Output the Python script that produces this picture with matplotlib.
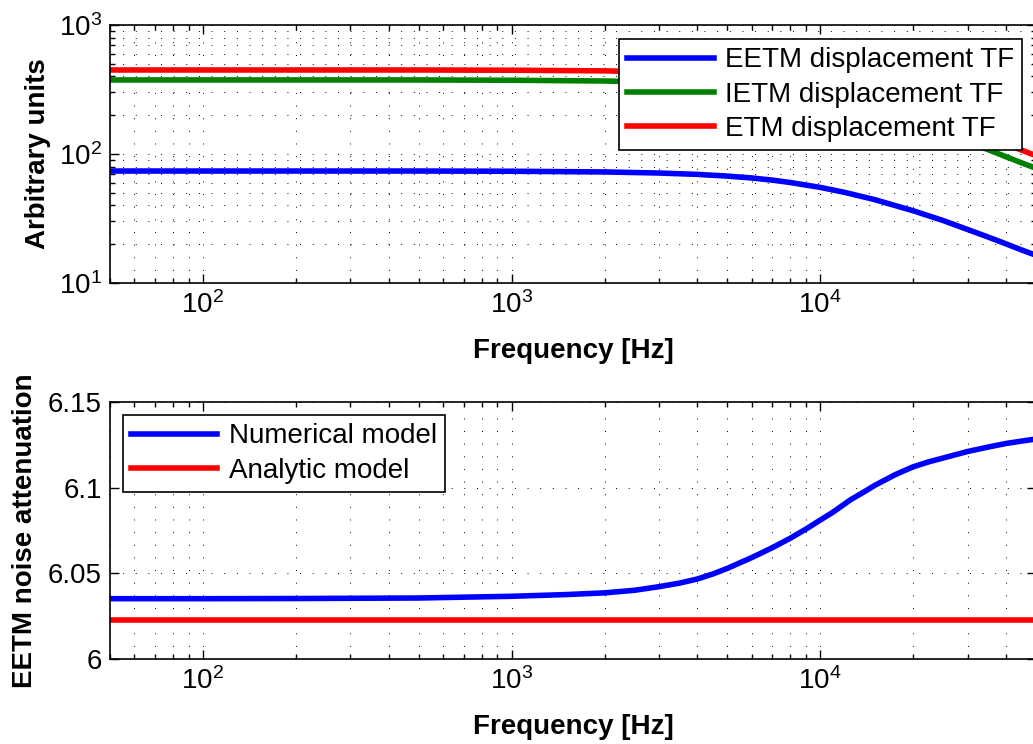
import matplotlib
matplotlib.use("Agg")
import matplotlib.pyplot as plt
from matplotlib.ticker import NullFormatter, FixedLocator, FixedFormatter

plt.rcParams["font.family"] = ["Liberation Sans", "DejaVu Sans"]
plt.rcParams["mathtext.fontset"] = "custom"
plt.rcParams["mathtext.rm"] = "Liberation Sans"
plt.rcParams["mathtext.it"] = "Liberation Sans:italic"
plt.rcParams["mathtext.bf"] = "Liberation Sans:bold"

FONT_SIZE = 20
LINE_WIDTH = 4.0
GRID_STYLE = dict(color="black", linestyle=(0, (1, 12)), linewidth=0.7)

# displacement transfer functions (arbitrary units)
FREQ_TF = [50, 100, 200, 500, 1000, 2000, 3000, 4000, 5000, 6000, 7000, 8000,
           10000, 12000, 15000, 20000, 25000, 30000, 35000, 40000, 45000, 50000]
EETM_TF = [73.8, 73.8, 73.8, 73.8, 73.5, 72.6, 71.2, 69.5, 67.4, 65.2, 62.7, 60.1,
           55.1, 50.4, 44.3, 36.3, 30.5, 26.0, 22.7, 20.1, 18.0, 16.4]
IETM_TF = [375, 375, 375, 375, 373, 368, 361, 351, 339, 326, 312, 298,
           272, 249, 215, 174, 145, 124, 108, 95.2, 85.2, 77.5]
ETM_TF = [448, 448, 448, 448, 446, 441, 432, 421, 408, 393, 378, 362,
          331, 303, 265, 216, 180, 154, 134, 119, 107, 97.0]

# noise attenuation of the EETM
FREQ_ATT = [50, 100, 200, 500, 1000, 1500, 2000, 2500, 3000, 3500, 4000, 4500,
            5000, 6000, 7000, 8000, 9000, 10000, 11000, 12500, 14000, 15000,
            17500, 20000, 22500, 25000, 30000, 35000, 40000, 45000, 50000]
NUMERICAL_ATT = [6.0352, 6.0352, 6.0353, 6.0356, 6.0366, 6.0376, 6.0386, 6.0401,
                 6.0422, 6.0443, 6.0467, 6.0497, 6.0529, 6.0592, 6.0650, 6.0705,
                 6.0759, 6.0811, 6.0857, 6.0928, 6.0980, 6.1013, 6.1076, 6.1122,
                 6.1151, 6.1173, 6.1211, 6.1237, 6.1258, 6.1272, 6.1284]
ANALYTIC_ATT = [6.0228] * len(FREQ_ATT)

ATT_TICKS = [6.0, 6.05, 6.1, 6.15]
ATT_TICK_LABELS = ["6", "6.05", "6.1", "6.15"]

FIG_W, FIG_H = 1033, 744


def px_axes(left, top, right, bottom):
    return [left / FIG_W, 1 - bottom / FIG_H, (right - left) / FIG_W, (bottom - top) / FIG_H]


def style_axes(ax):
    ax.set_xscale("log")
    ax.set_xlim(50, 50000)
    ax.tick_params(which="both", direction="in", top=True, right=True,
                   labelsize=FONT_SIZE, width=1.0, pad=6)
    ax.tick_params(which="major", length=6.5)
    ax.tick_params(which="minor", length=3.5)
    ax.xaxis.set_minor_formatter(NullFormatter())
    for spine in ax.spines.values():
        spine.set_linewidth(1.2)
    ax.grid(True, which="both", **GRID_STYLE)
    ax.set_xlabel("Frequency [Hz]", fontsize=FONT_SIZE, fontweight="bold")


def draw_legend(ax, loc, anchor):
    leg = ax.legend(loc=loc, bbox_to_anchor=anchor, borderaxespad=0,
                    fontsize=FONT_SIZE, fancybox=False, framealpha=1,
                    edgecolor="black", handlelength=3.1, handletextpad=0.4,
                    labelspacing=0.3, borderpad=0.3)
    leg.get_frame().set_linewidth(1.2)


fig = plt.figure(figsize=(FIG_W / 100, FIG_H / 100), dpi=100)

# top panel: transfer functions
ax1 = fig.add_axes(px_axes(110, 25, 1036, 283))
ax1.plot(FREQ_TF, EETM_TF, color="#0000ff", linewidth=LINE_WIDTH, label="EETM displacement TF")
ax1.plot(FREQ_TF, IETM_TF, color="#008000", linewidth=LINE_WIDTH, label="IETM displacement TF")
ax1.plot(FREQ_TF, ETM_TF, color="#ff0000", linewidth=LINE_WIDTH, label="ETM displacement TF")
style_axes(ax1)
ax1.set_yscale("log")
ax1.set_ylim(10, 1000)
ax1.yaxis.set_minor_formatter(NullFormatter())
ax1.set_ylabel("Arbitrary units", fontsize=FONT_SIZE, fontweight="bold")
ax1.yaxis.set_label_coords(-0.064, 0.5)
ax1.xaxis.set_label_coords(0.5, -0.215)
draw_legend(ax1, "upper right", (0.985, 0.946))

# bottom panel: noise attenuation
ax2 = fig.add_axes(px_axes(110, 402, 1036, 659))
ax2.plot(FREQ_ATT, NUMERICAL_ATT, color="#0000ff", linewidth=LINE_WIDTH, label="Numerical model")
ax2.plot(FREQ_ATT, ANALYTIC_ATT, color="#ff0000", linewidth=LINE_WIDTH, label="Analytic model")
style_axes(ax2)
ax2.set_ylim(6.0, 6.15)
ax2.yaxis.set_major_locator(FixedLocator(ATT_TICKS))
ax2.yaxis.set_major_formatter(FixedFormatter(ATT_TICK_LABELS))
ax2.set_ylabel("EETM noise attenuation", fontsize=FONT_SIZE, fontweight="bold")
ax2.yaxis.set_label_coords(-0.078, 0.5)
ax2.xaxis.set_label_coords(0.5, -0.215)
draw_legend(ax2, "upper left", (0.014, 0.949))

fig.savefig("out.png", dpi=100)
